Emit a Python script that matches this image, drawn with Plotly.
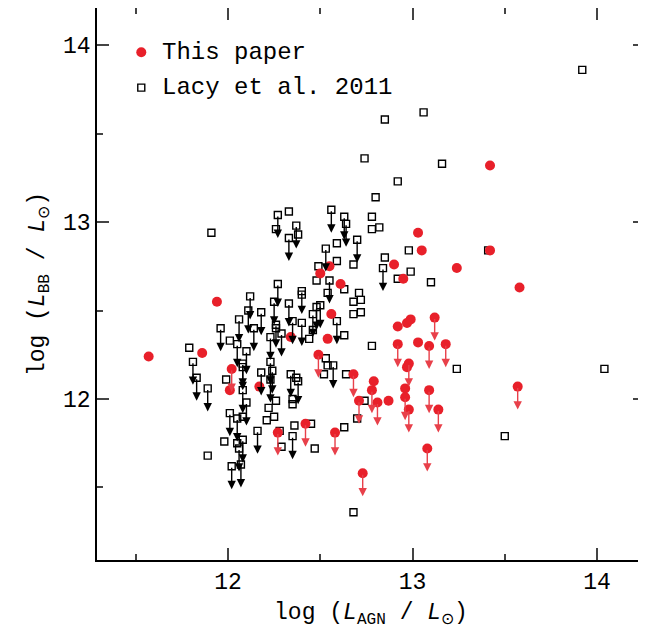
import plotly.graph_objects as go

# This paper: log L_AGN, log L_BB, upper limit flag
red_x = [11.57, 11.86, 11.94, 12.02, 12.01, 12.17, 12.27, 12.34, 12.42, 12.49, 12.50, 12.55,
         12.61, 12.56, 12.54, 12.58, 12.68, 12.73, 12.71, 12.78, 12.79, 12.81, 12.87, 12.90,
         12.95, 12.92, 12.92, 12.96, 12.96, 12.98, 12.98, 12.97, 12.97, 12.99, 13.03, 13.03,
         13.05, 13.09, 13.09, 13.08, 13.12, 13.14, 13.18, 13.24, 13.42, 13.42, 13.58, 13.57]
red_y = [12.24, 12.26, 12.55, 12.17, 12.05, 12.07, 11.81, 12.35, 11.86, 12.25, 12.71, 12.75,
         12.65, 12.48, 12.34, 11.81, 12.14, 11.58, 11.99, 12.05, 12.10, 11.98, 11.99, 12.76,
         12.68, 12.41, 12.31, 12.06, 12.01, 11.94, 12.20, 12.18, 12.43, 12.45, 12.32, 12.94,
         12.84, 12.30, 12.05, 11.72, 12.46, 11.94, 12.31, 12.74, 13.32, 12.84, 12.63, 12.07]
red_lim = [0, 0, 0, 1, 0, 0, 1, 0, 1, 1, 0, 0,
           0, 0, 0, 1, 1, 1, 1, 1, 0, 1, 0, 0,
           0, 0, 1, 0, 1, 1, 1, 0, 0, 0, 0, 0,
           0, 1, 1, 1, 1, 1, 1, 0, 0, 0, 0, 1]

# Lacy et al. 2011
lacy = [
    (11.91, 12.94, 0), (12.27, 13.04, 1), (12.33, 13.06, 0), (12.56, 13.07, 1), (12.63, 13.03, 1),
    (12.64, 12.99, 1), (12.37, 12.98, 1), (12.38, 12.93, 0), (12.26, 12.96, 0), (12.33, 12.91, 1),
    (12.53, 12.85, 1), (12.59, 12.88, 0), (12.59, 12.78, 0), (12.49, 12.75, 0), (12.48, 12.67, 0),
    (12.55, 12.67, 1), (12.54, 12.60, 0), (12.63, 12.62, 0), (12.27, 12.65, 1), (12.40, 12.61, 1),
    (12.40, 12.59, 0), (12.12, 12.58, 1), (12.11, 12.50, 1), (12.18, 12.49, 1), (12.25, 12.55, 1),
    (12.33, 12.54, 1), (12.06, 12.45, 1), (11.96, 12.40, 1), (12.01, 12.33, 0), (12.05, 12.31, 1),
    (12.10, 12.27, 1), (12.14, 12.40, 1), (12.26, 12.42, 1), (12.26, 12.40, 0), (12.23, 12.35, 1),
    (12.29, 12.37, 1), (12.40, 12.43, 1), (12.48, 12.52, 1), (12.50, 12.53, 1), (12.46, 12.48, 1),
    (12.46, 12.39, 0), (12.44, 12.34, 0), (12.35, 12.44, 1), (12.59, 12.44, 1), (12.63, 12.36, 0),
    (11.79, 12.29, 0), (11.81, 12.21, 1), (11.83, 12.12, 1), (11.89, 12.06, 1), (11.99, 12.11, 0),
    (12.08, 12.20, 1), (12.08, 12.18, 1), (12.18, 12.15, 1), (12.23, 12.21, 1), (12.24, 12.16, 1),
    (12.23, 12.11, 1), (12.34, 12.14, 1), (12.37, 12.12, 0), (12.38, 12.10, 1), (12.35, 12.00, 0),
    (12.35, 11.97, 0), (12.26, 11.99, 0), (12.22, 11.95, 0), (12.08, 12.05, 1), (12.10, 11.98, 1),
    (12.01, 11.92, 1), (12.05, 11.89, 1), (12.08, 11.90, 0), (12.21, 11.88, 0), (12.25, 11.90, 0),
    (12.16, 11.82, 1), (12.36, 11.85, 0), (12.45, 11.86, 0), (12.35, 11.79, 1), (12.28, 11.82, 0),
    (12.29, 11.73, 0), (11.98, 11.76, 0), (11.89, 11.68, 0), (12.05, 11.75, 0), (12.08, 11.77, 1),
    (12.06, 11.72, 1), (12.07, 11.63, 1), (12.02, 11.62, 1), (12.47, 11.72, 0), (12.53, 12.23, 0),
    (12.54, 12.19, 0), (12.57, 12.19, 1), (12.52, 12.14, 0), (12.63, 11.84, 0), (12.80, 13.14, 0),
    (12.78, 13.03, 0), (12.78, 12.96, 0), (12.82, 12.97, 0), (12.85, 12.80, 0), (12.84, 12.74, 1),
    (12.71, 12.60, 0), (12.72, 12.56, 0), (12.68, 12.55, 0), (12.68, 12.48, 0), (12.72, 12.49, 0),
    (12.78, 12.30, 0), (12.64, 12.14, 0), (12.74, 11.99, 0), (12.70, 11.89, 0), (12.68, 11.36, 0),
    (12.70, 12.90, 1), (12.68, 12.76, 0), (13.16, 13.33, 0), (12.92, 13.23, 0), (12.98, 12.84, 0),
    (12.99, 12.72, 0), (12.92, 12.68, 0), (13.10, 12.66, 0), (13.24, 12.17, 0), (13.50, 11.79, 0),
    (13.41, 12.84, 0), (13.92, 13.86, 0), (13.06, 13.62, 0), (14.04, 12.17, 0), (12.85, 13.58, 0),
    (12.74, 13.36, 0),
]
lacy_x = [p[0] for p in lacy]
lacy_y = [p[1] for p in lacy]
lacy_lim = [p[2] for p in lacy]

ARROW = 0.13
FONT = "Liberation Mono"

fig = go.Figure()
annotations = []


def add_arrows(xs, ys, lims, color):
    for x, y, lim in zip(xs, ys, lims):
        if lim:
            annotations.append(dict(
                x=x, y=y - ARROW, ax=x, ay=y, xref="x", yref="y", axref="x", ayref="y",
                showarrow=True, arrowhead=2, arrowsize=1.2, arrowwidth=1.4,
                arrowcolor=color, text="", standoff=0, startstandoff=0,
            ))


add_arrows(lacy_x, lacy_y, lacy_lim, "black")
add_arrows(red_x, red_y, red_lim, "#e8404a")

fig.add_trace(go.Scatter(
    x=lacy_x, y=lacy_y, mode="markers", name="Lacy et al. 2011",
    marker=dict(symbol="square-open", size=7, color="black", line=dict(width=1.4)),
))
fig.add_trace(go.Scatter(
    x=red_x, y=red_y, mode="markers", name="This paper",
    marker=dict(symbol="circle", size=10, color="#e8202a"),
))

# legend drawn by hand to match the original
fig.add_trace(go.Scatter(x=[11.53], y=[13.96], mode="markers", showlegend=False,
                         marker=dict(symbol="circle", size=10, color="#e8202a")))
fig.add_trace(go.Scatter(x=[11.53], y=[13.76], mode="markers", showlegend=False,
                         marker=dict(symbol="square-open", size=7, color="black", line=dict(width=1.4))))
annotations.append(dict(x=11.63, y=13.96, xref="x", yref="y", text="This paper", showarrow=False,
                        xanchor="left", font=dict(family=FONT, size=24, color="black")))
annotations.append(dict(x=11.63, y=13.76, xref="x", yref="y", text="Lacy et al. 2011", showarrow=False,
                        xanchor="left", font=dict(family=FONT, size=24, color="black")))

axis = dict(
    showgrid=False, zeroline=False, showline=True, linecolor="black", linewidth=1.5,
    mirror="ticks", ticks="inside", ticklen=12, tickwidth=1.5, dtick=1, automargin=False,
    minor=dict(ticks="inside", ticklen=6, dtick=0.5, tickwidth=1.5),
    tickfont=dict(family=FONT, size=23, color="black"),
)

# page body has an 8px margin, so the figure is shifted by 8px
fig.update_layout(
    width=638, height=627, showlegend=False,
    paper_bgcolor="white", plot_bgcolor="white",
    margin=dict(l=89, r=1, t=0, b=75),
    xaxis=dict(axis, range=[11.29, 14.26], tick0=12,
               title=dict(text="log (<i>L</i><sub>AGN</sub> / <i>L</i><sub>⊙</sub>)",
                          font=dict(family=FONT, size=23, color="black"), standoff=8)),
    yaxis=dict(axis, range=[11.09, 14.21], tick0=12,
               title=dict(text="log (<i>L</i><sub>BB</sub> / <i>L</i><sub>⊙</sub>)",
                          font=dict(family=FONT, size=23, color="black"), standoff=12)),
    annotations=annotations,
)

fig.write_html("out.html")
